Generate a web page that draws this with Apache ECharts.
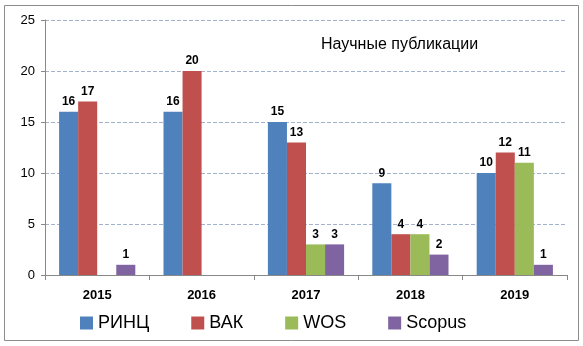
<!DOCTYPE html>
<html><head><meta charset="utf-8">
<script src="https://cdn.jsdelivr.net/npm/echarts@6/dist/echarts.min.js"></script>
<style>html,body{margin:0;padding:0;background:#fff}#c{width:583px;height:346px}</style>
</head><body><div id="c"></div>
<script>
const categories = ['2015','2016','2017','2018','2019'];
const rinc = [16,16,15,9,10];
const vak = [17,20,13,4,12];
const wos = [0,0,3,4,11];
const scopus = [1,0,3,2,1];
const seriesNames = ['РИНЦ','ВАК','WOS','Scopus'];
const colors = ['#4F81BD','#C0504D','#9BBB59','#8064A2'];
const yTicks = [0,5,10,15,20,25];
const titleText = 'Научные публикации';
const font = 'Liberation Sans, Arial, sans-serif';

const chart = echarts.init(document.getElementById('c'), null, {renderer:'canvas'});
const mk = (name, data, i) => ({
  name, type:'bar', data, barGap:'0%', barCategoryGap:'27%',
  itemStyle:{color:colors[i]},
  label:{show:true, position:'top', distance:4, fontFamily:font, fontWeight:'bold', fontSize:12, color:'#000',
    formatter:p => p.value ? String(p.value) : ''}
});
chart.setOption({
  animation:false,
  title:{text:titleText, left:316, top:32, textStyle:{fontFamily:font, fontSize:16, fontWeight:'normal', color:'#000'}},
  graphic:[{type:'rect', shape:{x:4.5,y:5.5,width:574,height:335}, style:{fill:'none', stroke:'#8c8c8c', lineWidth:1}, z:-1}],
  legend:{data:seriesNames, bottom:9, left:75, itemWidth:13, itemHeight:13, itemGap:42, icon:'rect',
    textStyle:{fontFamily:font, fontSize:18, color:'#000'}},
  grid:{left:45, right:16, top:20, bottom:71},
  xAxis:{type:'category', data:categories,
    axisLine:{lineStyle:{color:'#888'}}, axisTick:{show:true, length:5, lineStyle:{color:'#888'}},
    axisLabel:{fontFamily:font, fontWeight:'bold', fontSize:13, color:'#000', margin:14}},
  yAxis:{type:'value', min:0, max:25, interval:5,
    axisLine:{show:true, lineStyle:{color:'#888'}}, axisTick:{show:true, length:4, lineStyle:{color:'#888'}},
    axisLabel:{fontFamily:font, fontSize:13, color:'#000', margin:10},
    splitLine:{lineStyle:{type:'dashed', color:'#a3b3cc'}}},
  series:[mk(seriesNames[0],rinc,0), mk(seriesNames[1],vak,1), mk(seriesNames[2],wos,2), mk(seriesNames[3],scopus,3)]
});
</script></body></html>
